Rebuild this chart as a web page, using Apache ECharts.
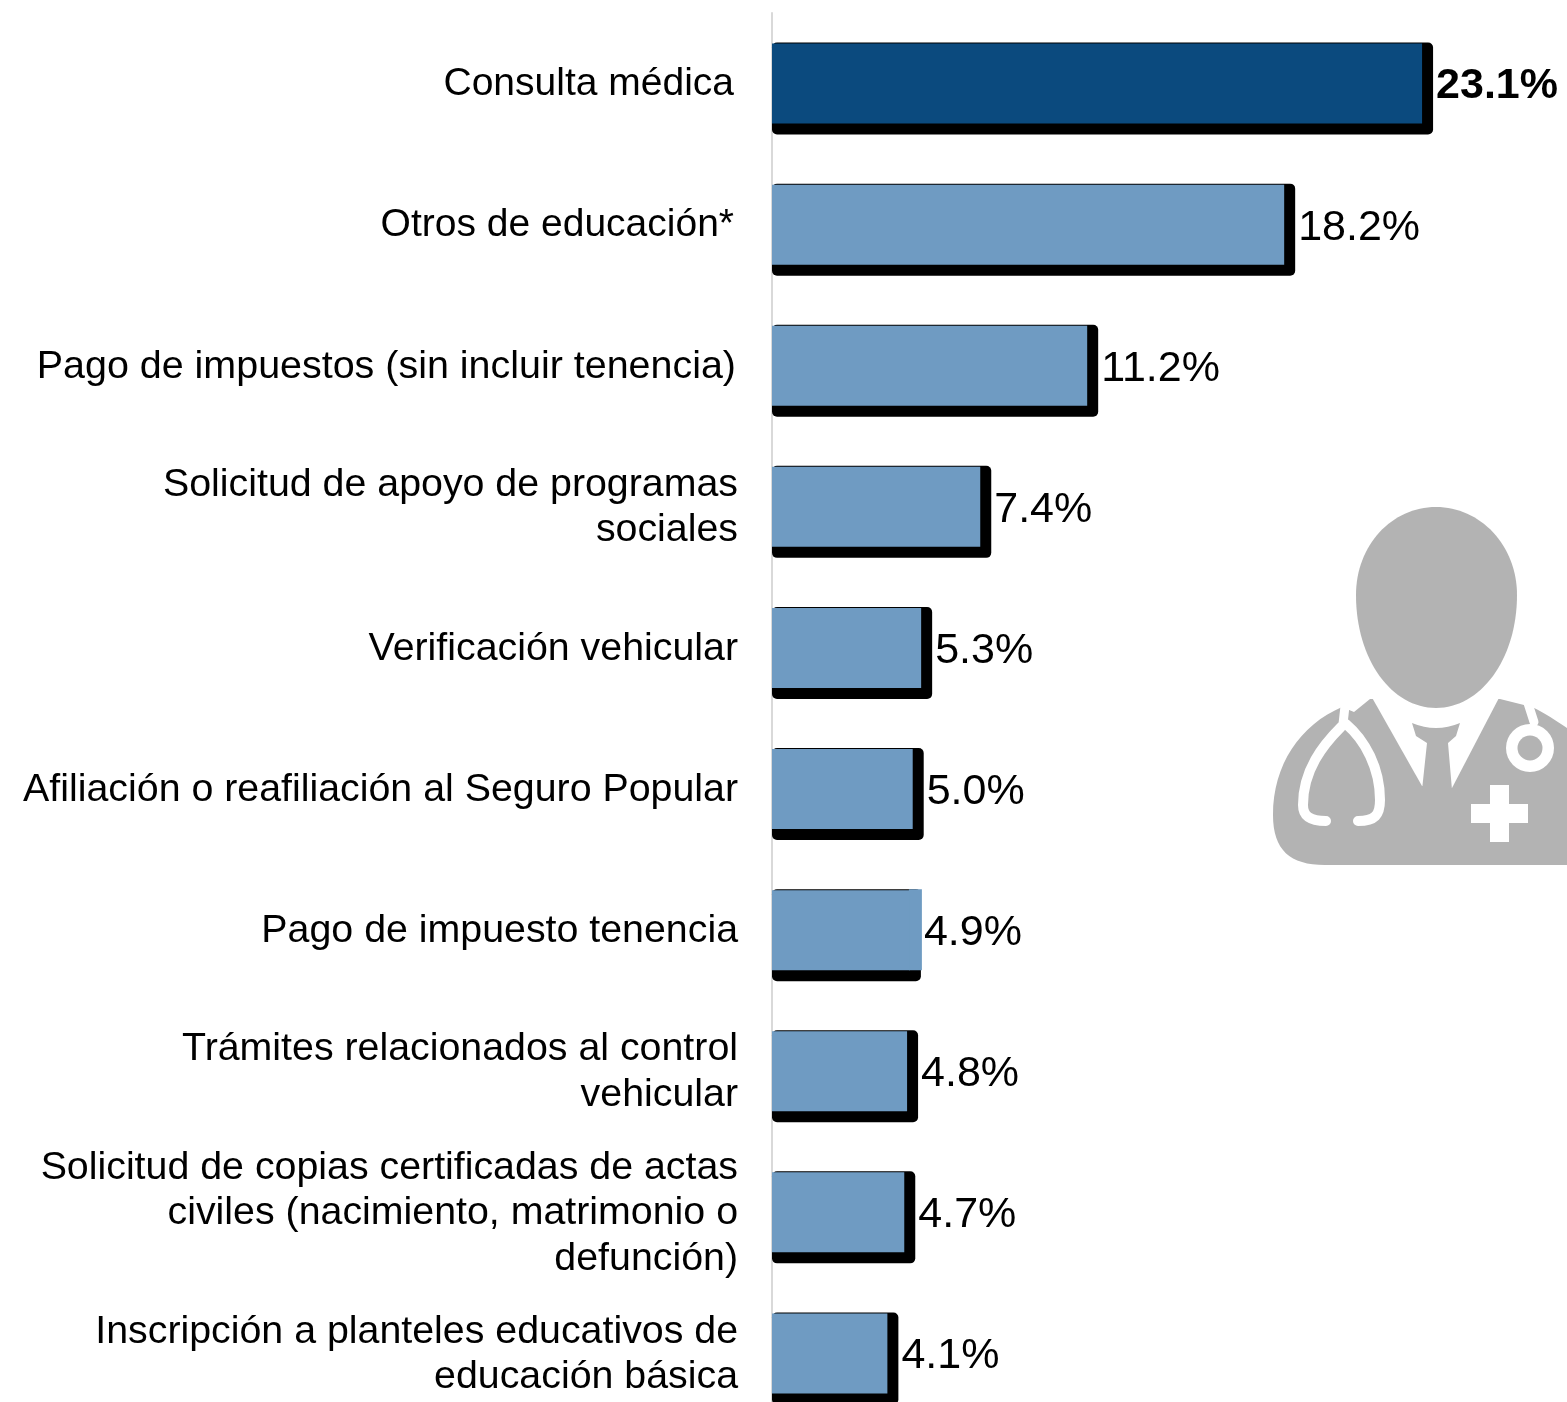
<!DOCTYPE html>
<html>
<head>
<meta charset="utf-8">
<style>html,body{margin:0;padding:0;background:#fff;width:1567px;height:1402px;overflow:hidden}#c{width:1567px;height:1440px}</style>
<script src="https://cdn.jsdelivr.net/npm/echarts@6/dist/echarts.min.js"></script>
</head>
<body>
<div id="c"></div>
<script>
const categories = [
  "Consulta médica",
  "Otros de educación*",
  "Pago de impuestos (sin incluir tenencia)",
  "Solicitud de apoyo de programas\nsociales",
  "Verificación vehicular",
  "Afiliación o reafiliación al Seguro Popular",
  "Pago de impuesto tenencia",
  "Trámites relacionados al control\nvehicular",
  "Solicitud de copias certificadas de actas\nciviles (nacimiento, matrimonio o\ndefunción)",
  "Inscripción a planteles educativos de\neducación básica"
];
const values = [23.1, 18.2, 11.2, 7.4, 5.3, 5.0, 4.9, 4.8, 4.7, 4.1];

const DARK = '#0b4a7e', LIGHT = '#6f9bc2', GREY = '#b3b3b3';
const FONT = '"Liberation Sans", Arial, sans-serif';
const BAR_H = 80, DEPTH = 11;
const NO_SIDE_SHADOW = 6; // this bar's side shadow is painted in bar colour in the source

const chart = echarts.init(document.getElementById('c'), null, {renderer: 'canvas'});

function renderBack(params, api) {
  const i = api.value(1);
  const end = api.coord([api.value(0), i]);
  const zero = api.coord([0, i]);
  const children = [{
    type: 'rect',
    shape: {x: zero[0], y: end[1] - BAR_H / 2 - 1, width: end[0] - zero[0] + DEPTH, height: BAR_H + DEPTH + 1, r: 5},
    style: {fill: '#000'}
  }];
  if (i === NO_SIDE_SHADOW) {
    children.push({
      type: 'rect',
      shape: {x: end[0] - 1, y: end[1] - BAR_H / 2 - 1, width: DEPTH + 2, height: BAR_H + 1},
      style: {fill: LIGHT}
    });
  }
  return {type: 'group', children};
}

let shapeCount = 0;
function pathEl(pathData, style) {
  const name = 'iconPath' + (shapeCount++);
  echarts.graphic.registerShape(name, echarts.graphic.extendPath(pathData, {}));
  return {type: name, style, z: 10, silent: true};
}
const white = (d, w) => pathEl(d, {fill: null, stroke: '#fff', lineWidth: w, lineCap: 'round', lineJoin: 'round'});
const solid = (d, fill) => pathEl(d, {fill});

const labelBase = {fontFamily: FONT, color: '#000', lineHeight: 45.5};

chart.setOption({
  animation: false,
  backgroundColor: '#fff',
  grid: {left: 772, top: 13, right: 0, height: 1411, containLabel: false},
  xAxis: {type: 'value', min: 0, max: 28.25, show: false},
  yAxis: {
    type: 'category', inverse: true, data: categories,
    axisTick: {show: false},
    axisLine: {show: true, lineStyle: {color: '#d9d9d9', width: 2}},
    axisLabel: {
      interval: 0, margin: 34, fontFamily: FONT, fontSize: 39.35, lineHeight: 45.5, color: '#000',
      align: 'right', verticalAlign: 'middle', padding: [2, 0, 0, 0],
      formatter: (v, i) => i < 2 ? '{a|' + v + '}' : i === 2 ? '{b|' + v + '}' : v,
      rich: {
        a: Object.assign({fontSize: 39, padding: [0, 4, 0, 0]}, labelBase),
        b: Object.assign({fontSize: 39.45, padding: [0, 2, 0, 0]}, labelBase)
      }
    }
  },
  series: [
    {
      type: 'custom', silent: true, z: 2,
      data: values.map((v, i) => [v, i]),
      encode: {x: 0, y: 1},
      renderItem: renderBack
    },
    {
      type: 'bar', z: 3, barWidth: BAR_H,
      barGap: '-100%',
      data: values.map((v, i) => ({
        value: v,
        itemStyle: {color: i === 0 ? DARK : LIGHT},
        label: i === 0 ? {fontWeight: 'bold'} : undefined
      })),
      label: {
        show: true, position: 'right', distance: 14, offset: [0, 3],
        fontFamily: FONT, fontSize: 43, color: '#000',
        formatter: p => p.value.toFixed(1) + '%'
      }
    }
  ],
  graphic: {elements: [
    // doctor icon
    solid('M1342,707 C1300,725 1273,765 1273,815 C1273,850 1290,865 1325,865 L1567,865 L1567,728 C1555,720 1545,713 1532,707 L1500,699 L1370,699 L1354,712 Z', GREY),
    solid('M1370,694 L1422,786 L1452,788 L1501,694 Z', '#fff'),
    solid('M1412,723 Q1436,733 1460,723 L1456,736 L1448,743 L1452,790 L1422,790 L1427,743 L1416,736 Z', GREY),
    white('M1345,706 L1343,724', 9),
    white('M1341,727 C1323,745 1303,770 1303,805 C1303,816 1310,821 1326,821', 10),
    white('M1346,724 C1365,740 1380,768 1380,800 C1380,815 1375,821 1358,821', 10),
    white('M1526,697 L1534,722', 9),
    {type: 'circle', shape: {cx: 1530, cy: 748, r: 24}, style: {fill: '#fff'}, z: 10},
    {type: 'circle', shape: {cx: 1530, cy: 748, r: 12.5}, style: {fill: GREY}, z: 10},
    solid('M1490,785 L1509,785 L1509,804 L1528,804 L1528,823 L1509,823 L1509,842 L1490,842 L1490,823 L1471,823 L1471,804 L1490,804 Z', '#fff'),
    solid('M1436,507 C1480,507 1517,545 1517,595 C1517,660 1480,708 1436,708 C1392,708 1356,660 1356,595 C1356,545 1392,507 1436,507 Z', GREY)
  ]}
});
</script>
</body>
</html>
